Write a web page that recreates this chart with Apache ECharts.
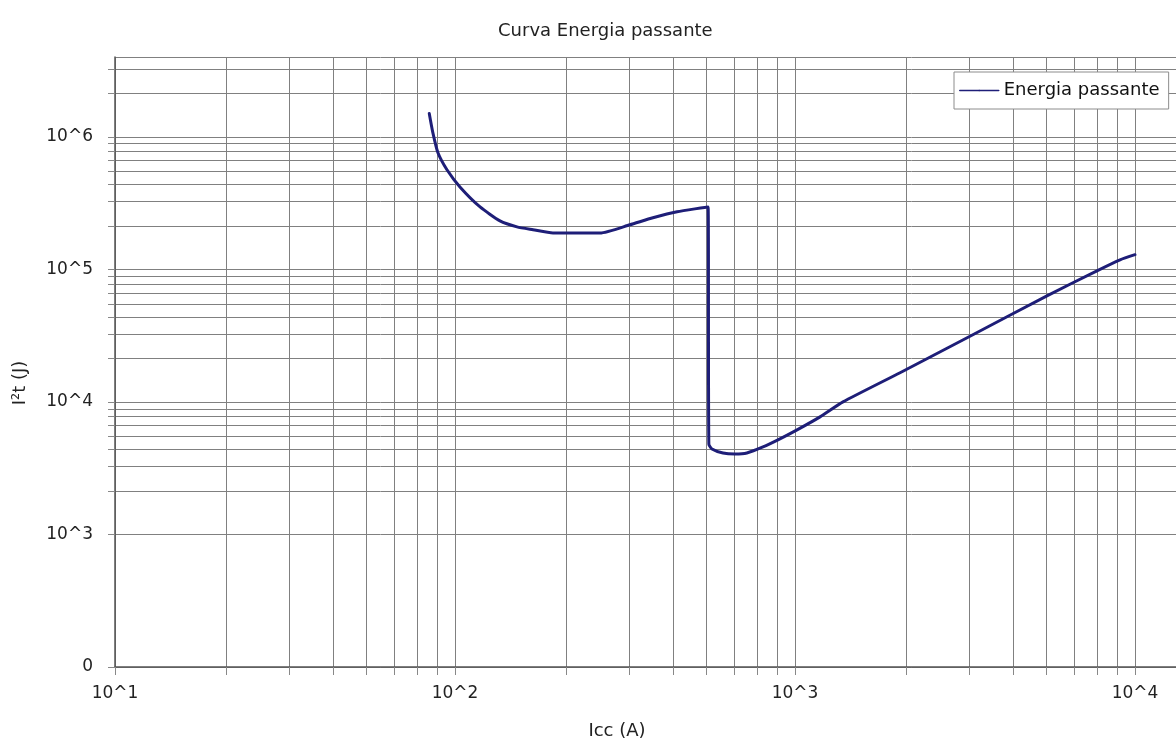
<!DOCTYPE html>
<html>
<head>
<meta charset="utf-8">
<script src="https://cdn.jsdelivr.net/npm/echarts@6/dist/echarts.min.js"></script>
<style>
  html, body { margin: 0; padding: 0; background: #ffffff; }
  #chart { width: 1176px; height: 746px; }
</style>
</head>
<body>
<div id="chart"></div>
<script>
// Let-through energy curve: prospective current Icc (A) vs I²t (J)
const iccAmps = [84, 86.1, 89.1, 94.7, 103.4, 118.5, 135.6, 152.2, 169.6, 194.2, 267, 327, 382, 450, 555,
                 558, 570, 614, 666, 722, 805, 903, 1014, 1185, 1384, 2037, 3250, 5508, 7729, 9036, 10000];
const energyJoules = [1.5e6, 1.07e6, 7.57e5, 5.64e5, 4.19e5, 2.96e5, 2.32e5, 2.09e5, 1.99e5, 1.88e5, 1.88e5, 2.17e5, 2.45e5, 2.72e5, 2.96e5,
                      4.8e3, 4.42e3, 4.12e3, 4.05e3, 4.12e3, 4.57e3, 5.26e3, 6.15e3, 7.71e3, 1.0e4, 1.66e4, 3.10e4, 6.31e4, 9.75e4, 1.18e5, 1.29e5];

const seriesName = 'Energia passante';
const chartTitle = 'Curva Energia passante';
const xAxisTitle = 'Icc (A)';
const yAxisTitle = 'I²t (J)';
const yBottomLabel = '0';

const FONT = 'DejaVu Sans';
const GRID_COLOR = '#808080';
const LINE_COLOR = '#1e1e78';

// horizontal rules: decade lines, plus eight equal linear steps inside each decade from 10^3 upward
const Y_MIN = 100, Y_MAX = 4e6;
const yGridValues = [Y_MIN];
for (let d = 3; d <= 6; d++) {
  const base = Math.pow(10, d);
  yGridValues.push(base);
  for (let k = 1; k <= 7; k++) {
    const v = base * (1 + 9 * k / 8);
    if (v < Y_MAX) yGridValues.push(v);
  }
}
yGridValues.push(Y_MAX);

function powerLabel(v) {
  const e = Math.log10(v);
  if (Math.abs(e - Math.round(e)) > 1e-6) return '';
  return '10^' + Math.round(e);
}

const chart = echarts.init(document.getElementById('chart'), null, { renderer: 'canvas' });

chart.setOption({
  backgroundColor: '#ffffff',
  animation: false,
  textStyle: { fontFamily: FONT },
  title: {
    text: chartTitle,
    left: 493,
    top: 17,
    textStyle: { fontFamily: FONT, fontSize: 18, fontWeight: 'normal', color: '#222' }
  },
  legend: {
    data: [seriesName],
    left: 954,
    top: 72,
    padding: [9, 9, 9, 5],
    itemWidth: 39,
    itemHeight: 2,
    backgroundColor: '#ffffff',
    borderColor: '#8c8c8c',
    borderWidth: 1,
    borderRadius: 0,
    textStyle: { fontFamily: FONT, fontSize: 18, color: '#111', lineHeight: 19 },
    lineStyle: { width: 1.5 }
  },
  // the plot runs on past the right edge of the canvas
  grid: {
    left: 115,
    top: 57,
    bottom: 79,
    right: -129,
    outerBoundsMode: 'none',
    containLabel: false
  },
  xAxis: {
    type: 'log',
    logBase: 10,
    min: 10,
    max: Math.pow(10, 4.5),
    name: xAxisTitle,
    nameLocation: 'middle',
    nameGap: 55,
    nameTextStyle: { fontFamily: FONT, fontSize: 18, color: '#222', padding: [0, 186, 0, 0] },
    axisLine: { show: true, onZero: false, lineStyle: { color: '#555', width: 1.5 } },
    axisTick: { show: true, length: 8, lineStyle: { color: '#888' } },
    minorTick: { show: true, splitNumber: 8, length: 8, lineStyle: { color: '#888' } },
    splitLine: { show: true, lineStyle: { color: GRID_COLOR, width: 1 } },
    minorSplitLine: { show: true, lineStyle: { color: GRID_COLOR, width: 1 } },
    axisLabel: {
      fontFamily: FONT, fontSize: 17, color: '#222', margin: 18,
      showMaxLabel: false,
      formatter: powerLabel
    }
  },
  yAxis: {
    type: 'log',
    logBase: 10,
    min: Y_MIN,
    max: Y_MAX,
    name: yAxisTitle,
    nameLocation: 'middle',
    nameGap: 86,
    nameRotate: 90,
    nameTextStyle: { fontFamily: FONT, fontSize: 18, color: '#222', padding: [0, 42, 0, 0] },
    axisLine: { show: true, lineStyle: { color: '#555', width: 1.5 } },
    axisTick: { show: true, length: 7, customValues: yGridValues, lineStyle: { color: '#888' } },
    splitLine: { show: true, lineStyle: { color: GRID_COLOR, width: 1 } },
    axisLabel: {
      fontFamily: FONT, fontSize: 17, color: '#222', margin: 22,
      showMaxLabel: false,
      formatter: function (v) {
        if (Math.abs(v - Y_MIN) < 1e-6) return yBottomLabel;
        return powerLabel(v);
      }
    }
  },
  series: [{
    name: seriesName,
    type: 'line',
    data: iccAmps.map((x, i) => [x, energyJoules[i]]),
    symbol: 'none',
    showSymbol: false,
    smooth: 0.2,
    lineStyle: { color: LINE_COLOR, width: 3, join: 'round', cap: 'round' },
    itemStyle: { color: LINE_COLOR }
  }]
});
</script>
</body>
</html>
